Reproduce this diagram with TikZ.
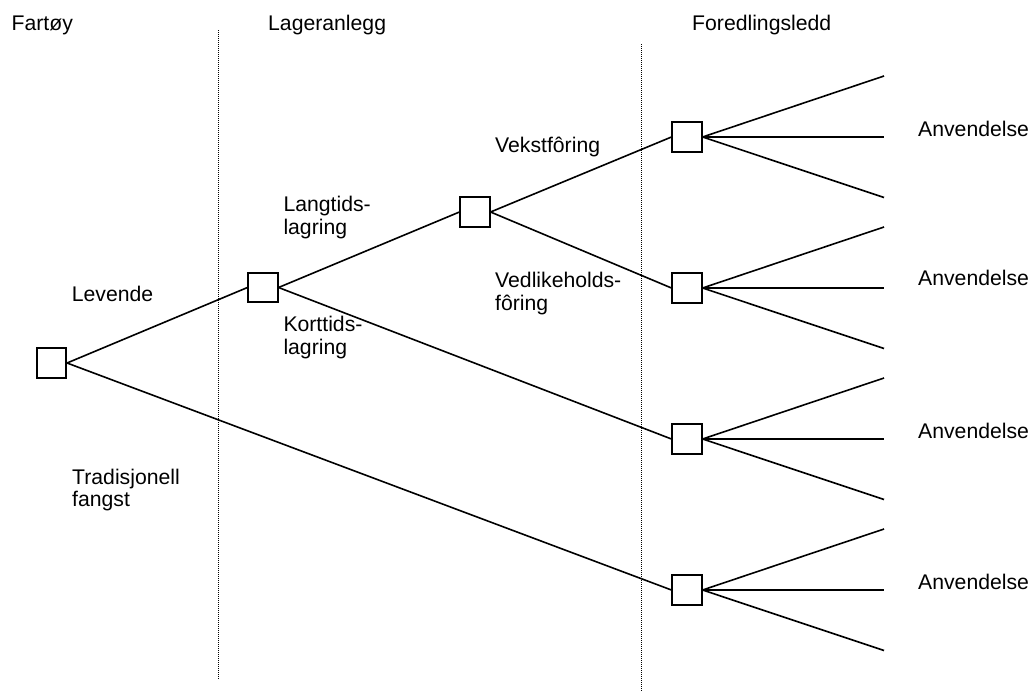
\documentclass[tikz,border=0pt]{standalone}
\usepackage{fontspec}
\setmainfont{Liberation Sans}
\begin{document}
\begin{tikzpicture}[x=1pt,y=-1pt,
  box/.style={draw,line width=1.6pt,minimum size=29.5pt,inner sep=0pt,fill=white},
  conn/.style={line width=1.6pt},
  sep/.style={line width=1pt,dash pattern=on 1pt off 1pt},
  lbl/.style={anchor=base west,inner sep=0pt,font=\fontsize{21.2}{23}\selectfont}]
\useasboundingbox (0,0) rectangle (1029,691);
% separators
\coordinate (s1t) at (218,30); \coordinate (s1b) at (218,680);
\coordinate (s2t) at (641,44); \coordinate (s2b) at (641,691);
\draw[sep] (s1t) -- (s1b);
\draw[sep] (s2t) -- (s2b);
% headers
\node[lbl] (h1) at (11.5,30) {Fartøy};
\node[lbl] (h2) at (268,30) {Lageranlegg};
\node[lbl] (h3) at (692,30) {Foredlingsledd};
% boxes
\node[box] (r) at (51.5,363) {};
\node[box] (a) at (263,287.5) {};
\node[box] (b) at (475,212) {};
\node[box] (c1) at (687,137) {};
\node[box] (c2) at (687,288) {};
\node[box] (c3) at (687,439) {};
\node[box] (c4) at (687,590) {};
% connectors
\draw[conn] (r.east) -- (a.west);
\draw[conn] (r.east) -- (c4.west);
\draw[conn] (a.east) -- (b.west);
\draw[conn] (a.east) -- (c3.west);
\draw[conn] (b.east) -- (c1.west);
\draw[conn] (b.east) -- (c2.west);
% fans
\foreach \n/\y in {c1/137,c2/288,c3/439,c4/590}{
  \coordinate (\n u) at (884,\y-61);
  \coordinate (\n m) at (884,\y);
  \coordinate (\n d) at (884,\y+60.5);
  \draw[conn] (\n.east) -- (\n u);
  \draw[conn] (\n.east) -- (\n m);
  \draw[conn] (\n.east) -- (\n d);
}
% labels
\node[lbl] (lev) at (71.7,301.7) {Levende};
\node[lbl] (trad1) at (72,484) {Tradisjonell};
\node[lbl] (trad2) at (72,506.7) {fangst};
\node[lbl] (lang1) at (283.3,211.7) {Langtids-};
\node[lbl] (lang2) at (283.3,234.4) {lagring};
\node[lbl] (kort1) at (283.3,331.7) {Korttids-};
\node[lbl] (kort2) at (283.3,354.4) {lagring};
\node[lbl] (vek) at (495,152.3) {Vekstfôring};
\node[lbl] (ved1) at (495,287.5) {Vedlikeholds-};
\node[lbl] (ved2) at (495,310.2) {fôring};
\node[lbl] (an1) at (918,136.7) {Anvendelse};
\node[lbl] (an2) at (918,285.5) {Anvendelse};
\node[lbl] (an3) at (918,438.3) {Anvendelse};
\node[lbl] (an4) at (918,589.3) {Anvendelse};
\end{tikzpicture}
\end{document}
